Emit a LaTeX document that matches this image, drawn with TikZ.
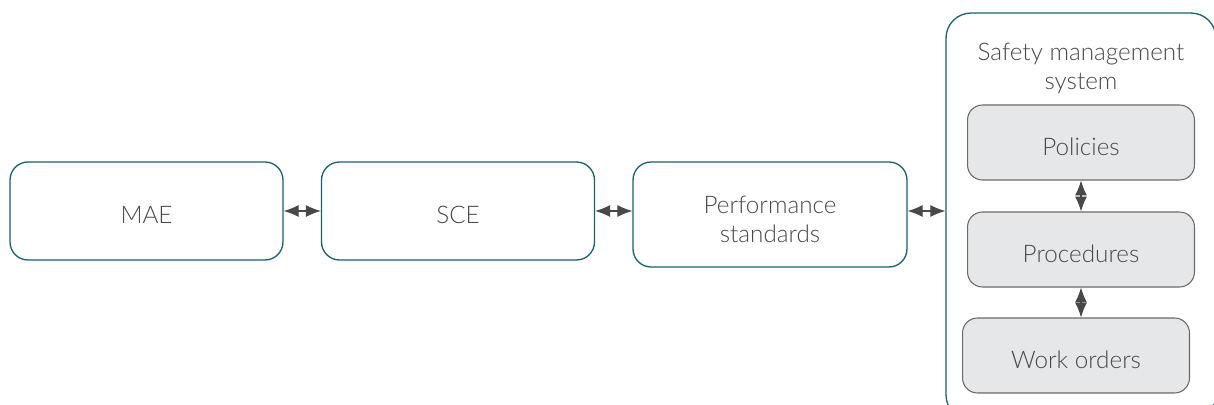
\documentclass[tikz,border=0pt]{standalone}
\usepackage{fontspec}
\setmainfont{Lato Light}
\usepackage{xcolor}
\usepackage{tikz}
\usetikzlibrary{positioning, calc, arrows.meta}
\definecolor{smsTeal}{RGB}{22, 100, 108}
\definecolor{smsGray}{RGB}{72, 72, 72}
\definecolor{smsEdge}{RGB}{105, 105, 105}
\definecolor{smsFill}{RGB}{230, 231, 232}
\tikzset{
    base/.style={
        font=\fontsize{13.8}{16.5}\selectfont,
        text=smsGray,
        align=center
    },
    barrier/.style={
        base,
        rectangle,
        rounded corners=3.6mm,
        draw=smsTeal,
        line width=0.75pt,
        fill=white,
        minimum width=5.46cm,
        minimum height=1.96cm,
        text height=14.6pt,
        text depth=0pt
    },
    system/.style={
        rectangle,
        rounded corners=5mm,
        draw=smsTeal,
        line width=0.75pt,
        fill=white,
        minimum width=5.4cm,
        minimum height=8.14cm
    },
    element/.style={
        base,
        rectangle,
        rounded corners=3mm,
        draw=smsEdge,
        line width=0.6pt,
        fill=smsFill,
        minimum width=4.54cm,
        minimum height=1.5cm,
        text height=14.6pt,
        text depth=0pt
    },
    link/.style={
        {Latex[length=8.5pt, width=6.8pt]}-{Latex[length=8.5pt, width=6.8pt]},
        line width=0.6pt,
        color=smsGray
    }
}

\begin{document}
\begin{tikzpicture}[x=0.02cm, y=-0.02cm]
    % Frame of the figure
    \clip (0,0) rectangle (1214,405);

    % Main chain
    \node[barrier] (mae) at (146.5, 211) {MAE};
    \node[barrier] (sce) at (458, 211) {SCE};
    \node[barrier, minimum width=5.48cm, minimum height=2.1cm,
          text height=32pt, text depth=0pt] (perf) at (770, 214.5) {Performance\\standards};

    % Safety management system
    \node[system] (sms) at (1081, 216.5) {};
    \node[base] (title) at (1081, 68) {Safety management\\system};
    \node[element] (pol) at (1081, 142.5) {Policies};
    \node[element] (proc) at (1081, 249.5) {Procedures};
    \node[element] (work) at (1076, 355.5) {Work orders};

    % Links
    \draw[link] (mae.east) -- (sce.west);
    \draw[link] (sce.east) -- (perf.west |- sce.east);
    \draw[link] (perf.east |- sce.east) -- (sms.west |- sce.east);
    \draw[link] (pol.south) -- (proc.north);
    \draw[link] (proc.south) -- (proc.south |- work.north);

\end{tikzpicture}
\end{document}
